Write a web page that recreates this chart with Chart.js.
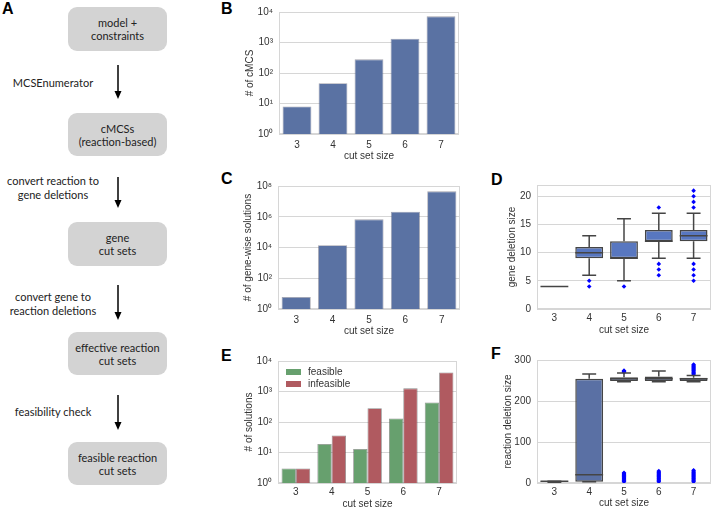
<!DOCTYPE html>
<html>
<head>
<meta charset="utf-8">
<script src="https://cdn.jsdelivr.net/npm/chart.js@4.4.1/dist/chart.umd.min.js"></script>
<style>
html, body { margin: 0; padding: 0; width: 716px; height: 509px; overflow: hidden; background: #fff; }
body { position: relative; }
canvas { position: absolute; }
.letter { position: absolute; font: bold 16px 'Liberation Sans', Arial, sans-serif; line-height: 16px; color: #000; }
.step { position: absolute; left: 68px; width: 99px; background: #d3d3d3; border-radius: 9px;
        display: flex; align-items: center; justify-content: center; text-align: center;
        font: 11px Lato, sans-serif; line-height: 13px; color: #222; }
.note { position: absolute; left: 0; width: 106px; text-align: center; font: 11px Lato, sans-serif; line-height: 14px; color: #222; }
</style>
</head>
<body>

<!-- flowchart -->
<div class="letter" style="left:2px;top:1px">A</div>
<div class="step" style="top:7px;height:44px">model +<br>constraints</div>
<div class="note" style="top:76px">MCSEnumerator</div>
<div class="step" style="top:113px;height:43px">cMCSs<br>(reaction-based)</div>
<div class="note" style="top:174px">convert reaction to<br>gene deletions</div>
<div class="step" style="top:222px;height:44px">gene<br>cut sets</div>
<div class="note" style="top:290px">convert gene to<br>reaction deletions</div>
<div class="step" style="top:332px;height:43px">effective reaction<br>cut sets</div>
<div class="note" style="top:405px">feasibility check</div>
<div class="step" style="top:442px;height:43px">feasible reaction<br>cut sets</div>
<svg style="position:absolute;left:0;top:0" width="180" height="509">
  <g stroke="#000" stroke-width="1.5">
    <line x1="118" y1="65" x2="118" y2="92"/>
    <line x1="118" y1="177" x2="118" y2="201"/>
    <line x1="118" y1="285" x2="118" y2="313"/>
    <line x1="118" y1="395" x2="118" y2="423"/>
  </g>
  <g fill="#000">
    <polygon points="114.5,91 121.5,91 118,99"/>
    <polygon points="114.5,200 121.5,200 118,208"/>
    <polygon points="114.5,312 121.5,312 118,320"/>
    <polygon points="114.5,422 121.5,422 118,430"/>
  </g>
</svg>

<div class="letter" style="left:221px;top:1px">B</div>
<div class="letter" style="left:221px;top:171px">C</div>
<div class="letter" style="left:491px;top:172px">D</div>
<div class="letter" style="left:221px;top:348px">E</div>
<div class="letter" style="left:491px;top:346px">F</div>

<canvas id="chartB" width="217" height="162" style="left:244px;top:0px"></canvas>
<canvas id="chartC" width="220" height="163" style="left:242px;top:174px"></canvas>
<canvas id="chartE" width="216" height="161" style="left:243px;top:349px"></canvas>
<canvas id="chartD" width="209" height="163" style="left:506px;top:173px"></canvas>
<canvas id="chartF" width="213" height="161" style="left:502px;top:348px"></canvas>

<script>
const cutSizes = ['3', '4', '5', '6', '7'];

// B, C, E: counts per cut set size
const cmcsCounts = [8, 46, 280, 1320, 7200];
const geneWiseCounts = [6, 14000, 680000, 2100000, 45000000];
const feasibleCounts = [3, 19, 13, 131, 434];
const infeasibleCounts = [3, 36, 285, 1270, 4200];

const ticksB = [1, 10, 100, 1000, 10000];
const ticksC = [1, 100, 10000, 1000000, 100000000];
const ticksE = [1, 10, 100, 1000, 10000];
const ticksD = [0, 5, 10, 15, 20];
const ticksF = [0, 100, 200, 300];

// D: gene deletion size box stats
const geneLow = [4, 6, 5, 9, 9];
const geneQ1 = [4, 9, 9, 12, 12];
const geneMed = [4, 10, 9, 12, 13];
const geneQ3 = [4, 11, 12, 14, 14];
const geneHigh = [4, 13, 16, 17, 17];
const geneOutliers = [[], [4, 5], [4], [6, 7, 8, 18], [5, 6, 7, 8, 18, 19, 20, 21]];

// F: reaction deletion size box stats
const reacLow = [2, 3, 247, 247, 247];
const reacQ1 = [3, 3, 249, 249, 249];
const reacMed = [4, 20, 254, 254, 254];
const reacQ3 = [5, 254, 258, 260, 257];
const reacHigh = [5, 266, 268, 273, 262];
const reacOutliers = [
    [],
    [],
    [3, 5, 7, 9, 11, 13, 15, 17, 19, 21, 23, 25, 270, 271, 272, 273, 274],
    [3, 5, 7, 9, 11, 13, 15, 17, 19, 21, 23, 25, 27, 29],
    [3, 5, 7, 9, 11, 13, 15, 17, 19, 21, 23, 25, 27, 29, 31, 265, 267, 269, 271, 273, 275, 277, 279, 281, 283, 285, 287, 289]
];

const axisFont = { family: "'Liberation Sans', Arial, sans-serif", size: 10 };
const inkColor = '#333';
const gridColor = '#d6d6d6';
const lineGray = '#454545';

const sup = { '0': '⁰', '1': '¹', '2': '²', '3': '³', '4': '⁴', '5': '⁵', '6': '⁶', '7': '⁷', '8': '⁸' };
function powLabel(v) {
    return '10' + sup[String(Math.round(Math.log10(v)))];
}

const framePlugin = {
    id: 'frame',
    beforeDatasetsDraw(chart) {
        const { ctx, chartArea: a } = chart;
        ctx.save();
        ctx.strokeStyle = gridColor;
        ctx.lineWidth = 1;
        ctx.strokeRect(a.left + 0.5, a.top + 0.5, a.width - 1, a.height - 1);
        ctx.restore();
    }
};

function xAxis(height, pad) {
    return {
        grid: { display: false, drawTicks: false },
        border: { display: false },
        ticks: { font: axisFont, color: inkColor, padding: pad },
        title: { display: true, text: 'cut set size', font: axisFont, color: inkColor, padding: 0 },
        afterFit: s => { s.height = height; }
    };
}

function logAxis(width, title, list) {
    return {
        type: 'logarithmic',
        min: list[0],
        max: list[list.length - 1],
        grid: { color: gridColor, drawTicks: false },
        border: { display: false },
        ticks: { font: axisFont, color: inkColor, padding: 6, callback: v => powLabel(v) },
        title: { display: true, text: title, font: axisFont, color: inkColor, padding: 0 },
        afterBuildTicks: s => { s.ticks = list.map(v => ({ value: v })); },
        afterFit: s => { s.width = width; }
    };
}

function linAxis(width, title, list, max) {
    return {
        min: 0,
        max: max,
        grid: { color: gridColor, drawTicks: false },
        border: { display: false },
        ticks: { font: axisFont, color: inkColor, padding: 6 },
        title: { display: true, text: title, font: axisFont, color: inkColor, padding: 0 },
        afterBuildTicks: s => { s.ticks = list.map(v => ({ value: v })); },
        afterFit: s => { s.width = width; }
    };
}

function baseOptions(yScale, xScale) {
    return {
        responsive: false,
        animation: false,
        devicePixelRatio: 1,
        layout: { padding: { top: 10, right: 2, left: 0, bottom: 0 } },
        plugins: { legend: { display: false }, tooltip: { enabled: false } },
        scales: { x: xScale, y: yScale }
    };
}

// B
const optB = baseOptions(logAxis(35, '# of cMCS', ticksB), xAxis(28, 5));
optB.layout.padding.top = 11;
new Chart(document.getElementById('chartB'), {
    type: 'bar',
    data: {
        labels: cutSizes,
        datasets: [{
            data: cmcsCounts,
            backgroundColor: '#5a72a3',
            borderColor: 'rgba(70,70,90,0.5)',
            borderWidth: 0.8,
            barPercentage: 0.8,
            categoryPercentage: 1
        }]
    },
    options: optB,
    plugins: [framePlugin]
});

// C
new Chart(document.getElementById('chartC'), {
    type: 'bar',
    data: {
        labels: cutSizes,
        datasets: [{
            data: geneWiseCounts,
            backgroundColor: '#5a72a3',
            borderColor: 'rgba(70,70,90,0.5)',
            borderWidth: 0.8,
            barPercentage: 0.8,
            categoryPercentage: 1
        }]
    },
    options: baseOptions(logAxis(36, '# of gene-wise solutions', ticksC), xAxis(28, 5)),
    plugins: [framePlugin]
});

// E
const swatchLegend = {
    id: 'swatchLegend',
    afterDraw(chart) {
        const { ctx, chartArea: a } = chart;
        ctx.save();
        ctx.font = "10px 'Liberation Sans', Arial, sans-serif";
        ctx.textBaseline = 'middle';
        chart.data.datasets.forEach((ds, i) => {
            const y = a.top + 11 + i * 12;
            ctx.fillStyle = ds.backgroundColor;
            ctx.fillRect(a.left + 8, y - 3, 15, 6);
            ctx.fillStyle = inkColor;
            ctx.fillText(ds.label, a.left + 30, y);
        });
        ctx.restore();
    }
};

new Chart(document.getElementById('chartE'), {
    type: 'bar',
    data: {
        labels: cutSizes,
        datasets: [{
            label: 'feasible',
            data: feasibleCounts,
            backgroundColor: '#67a06e',
            borderColor: 'rgba(60,60,60,0.6)',
            borderWidth: 0.8,
            barPercentage: 1,
            categoryPercentage: 0.8
        }, {
            label: 'infeasible',
            data: infeasibleCounts,
            backgroundColor: '#b05a60',
            borderColor: 'rgba(60,60,60,0.6)',
            borderWidth: 0.8,
            barPercentage: 1,
            categoryPercentage: 0.8
        }]
    },
    options: baseOptions(logAxis(35, '# of solutions', ticksE), xAxis(27, 3)),
    plugins: [framePlugin, swatchLegend]
});

// D, F: box plots = floating bars for the boxes, drawn whiskers, scatter outliers
function whiskerPlugin(low, med, high) {
    return {
        id: 'whiskers',
        afterDatasetDraw(chart, args) {
            if (args.index !== 0) return;
            const { ctx } = chart;
            const y = chart.scales.y;
            const bars = chart.getDatasetMeta(0).data;
            const box = chart.data.datasets[0].data;
            ctx.save();
            ctx.strokeStyle = lineGray;
            ctx.lineWidth = 1.5;
            bars.forEach((bar, i) => {
                const x = bar.x, w = bar.width;
                const yLow = y.getPixelForValue(low[i]);
                const yHigh = y.getPixelForValue(high[i]);
                const yQ1 = y.getPixelForValue(box[i][0]);
                const yQ3 = y.getPixelForValue(box[i][1]);
                const yMed = y.getPixelForValue(med[i]);
                ctx.beginPath();
                ctx.moveTo(x, yQ1); ctx.lineTo(x, yLow);
                ctx.moveTo(x, yQ3); ctx.lineTo(x, yHigh);
                ctx.moveTo(x - w / 4, yLow); ctx.lineTo(x + w / 4, yLow);
                ctx.moveTo(x - w / 4, yHigh); ctx.lineTo(x + w / 4, yHigh);
                ctx.moveTo(x - w / 2, yMed); ctx.lineTo(x + w / 2, yMed);
                ctx.stroke();
            });
            ctx.restore();
        }
    };
}

function boxChart(id, q1, q3, low, med, high, outliers, fill, yScale, xScale) {
    new Chart(document.getElementById(id), {
        type: 'bar',
        data: {
            labels: cutSizes,
            datasets: [{
                data: q1.map((q, i) => [q, q3[i]]),
                backgroundColor: fill,
                borderColor: lineGray,
                borderWidth: 1.5,
                borderSkipped: false,
                barPercentage: 0.8,
                categoryPercentage: 1
            }, {
                type: 'line',
                showLine: false,
                data: outliers.flatMap((vals, i) => vals.map(v => ({ x: cutSizes[i], y: v }))),
                pointStyle: 'rectRot',
                pointRadius: 2.3,
                pointBackgroundColor: '#0000ff',
                pointBorderWidth: 0
            }]
        },
        options: baseOptions(yScale, xScale),
        plugins: [framePlugin, whiskerPlugin(low, med, high)]
    });
}

boxChart('chartD', geneQ1, geneQ3, geneLow, geneMed, geneHigh, geneOutliers, '#5877c0',
    linAxis(31, 'gene deletion size', ticksD, 22), xAxis(27, 3));
boxChart('chartF', reacQ1, reacQ3, reacLow, reacMed, reacHigh, reacOutliers, '#5a70a4',
    linAxis(35, 'reaction deletion size', ticksF, 300), xAxis(26, 3));
</script>
</body>
</html>
